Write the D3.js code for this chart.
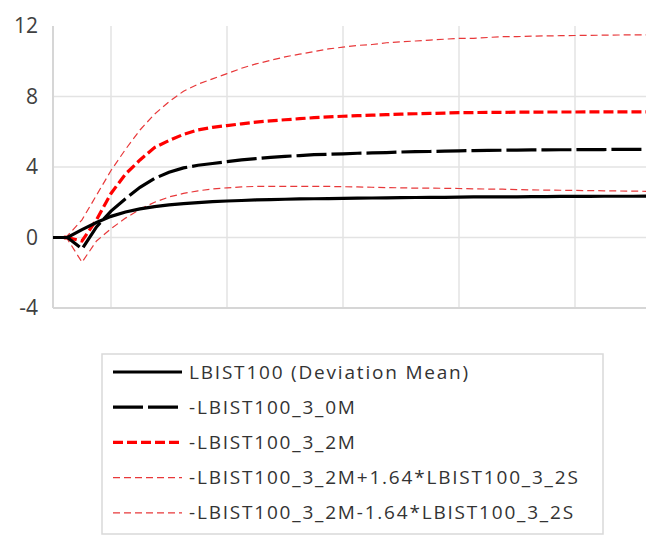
<!DOCTYPE html>
<html>
<head>
<meta charset="utf-8">
<script src="https://cdn.jsdelivr.net/npm/d3@7"></script>
<style>
  body { margin: 0; background: #fff; }
  text { font-family: "Open Sans", "Noto Sans", sans-serif; }
</style>
</head>
<body>
<svg id="chart" width="646" height="536"></svg>
<script>
// impulse responses, one value per period
const periods = d3.range(42);
const gridPeriods = [4, 12, 20, 28, 36];
const yTicks = [-4, 0, 4, 8, 12];

const devMean = [0, 0, 0.45, 0.85, 1.2, 1.45, 1.62, 1.75, 1.85, 1.92, 1.98, 2.03, 2.07, 2.1,
  2.13, 2.15, 2.17, 2.19, 2.2, 2.21, 2.22, 2.23, 2.24, 2.25, 2.26, 2.27, 2.28, 2.28,
  2.29, 2.3, 2.3, 2.31, 2.31, 2.32, 2.32, 2.33, 2.33, 2.33, 2.34, 2.34, 2.34, 2.35];
const m0 = [0, 0, -0.65, 0.6, 1.5, 2.2, 2.85, 3.35, 3.7, 3.95, 4.1, 4.2, 4.3, 4.4,
  4.48, 4.55, 4.6, 4.65, 4.7, 4.72, 4.75, 4.78, 4.8, 4.82, 4.85, 4.87, 4.88, 4.9,
  4.92, 4.93, 4.94, 4.95, 4.96, 4.97, 4.97, 4.98, 4.98, 4.99, 4.99, 5.0, 5.0, 5.0];
const m2 = [0, 0, -0.2, 1.0, 2.5, 3.6, 4.4, 5.1, 5.5, 5.85, 6.1, 6.25, 6.35, 6.45,
  6.55, 6.62, 6.68, 6.74, 6.8, 6.84, 6.88, 6.91, 6.94, 6.97, 7.0, 7.02, 7.04, 7.06,
  7.08, 7.09, 7.1, 7.1, 7.11, 7.11, 7.12, 7.12, 7.12, 7.13, 7.13, 7.13, 7.13, 7.13];
const upper = [0, 0.1, 1.0, 2.4, 3.8, 5.0, 6.1, 7.0, 7.7, 8.3, 8.7, 9.0, 9.3, 9.6,
  9.85, 10.05, 10.25, 10.4, 10.55, 10.7, 10.8, 10.9, 10.95, 11.05, 11.1, 11.15, 11.2, 11.25,
  11.3, 11.3, 11.35, 11.4, 11.4, 11.42, 11.44, 11.45, 11.46, 11.47, 11.48, 11.49, 11.5, 11.5];
const lower = [0, -0.1, -1.4, -0.2, 0.5, 1.1, 1.6, 2.0, 2.3, 2.5, 2.65, 2.75, 2.82, 2.87,
  2.9, 2.9, 2.9, 2.9, 2.9, 2.9, 2.88, 2.87, 2.85, 2.83, 2.82, 2.8, 2.8, 2.79,
  2.78, 2.76, 2.75, 2.74, 2.72, 2.7, 2.69, 2.68, 2.67, 2.66, 2.65, 2.64, 2.63, 2.62];

const seriesNames = ["LBIST100 (Deviation Mean)", "-LBIST100_3_0M", "-LBIST100_3_2M",
  "-LBIST100_3_2M+1.64*LBIST100_3_2S", "-LBIST100_3_2M-1.64*LBIST100_3_2S"];

const series = [
  { name: seriesNames[0], values: devMean, color: "#000", width: 3.2, dash: null },
  { name: seriesNames[1], values: m0, color: "#000", width: 3.2, dash: "30,5" },
  { name: seriesNames[2], values: m2, color: "#ff0000", width: 3.2, dash: "10,4" },
  { name: seriesNames[3], values: upper, color: "#e8383a", width: 1.2, dash: "7,4" },
  { name: seriesNames[4], values: lower, color: "#e8383a", width: 1.2, dash: "7,4" }
];

const svg = d3.select("#chart");
const plotLeft = 53, plotTop = 26, plotBottom = 308, plotRight = 646;

const x = d3.scaleLinear().domain([0, 41]).range([plotLeft, plotLeft + 14.5 * 41]);
const y = d3.scaleLinear().domain([-4, 12]).range([plotBottom, plotTop]);

svg.append("defs").append("clipPath").attr("id", "plot")
  .append("rect").attr("x", plotLeft).attr("y", 0)
  .attr("width", plotRight - plotLeft).attr("height", 536);

// gridlines
svg.append("g").selectAll("line").data(yTicks.filter(d => d > -4 && d < 12)).join("line")
  .attr("x1", plotLeft).attr("x2", plotRight)
  .attr("y1", d => y(d)).attr("y2", d => y(d))
  .attr("stroke", "#e3e3e3").attr("stroke-width", 1.5);
svg.append("g").selectAll("line").data(gridPeriods).join("line")
  .attr("x1", d => x(d)).attr("x2", d => x(d))
  .attr("y1", plotTop).attr("y2", plotBottom)
  .attr("stroke", "#e3e3e3").attr("stroke-width", 1.5);

// axis lines
svg.append("line").attr("x1", plotLeft).attr("x2", plotLeft)
  .attr("y1", plotTop).attr("y2", plotBottom)
  .attr("stroke", "#d6d6d6").attr("stroke-width", 2);
svg.append("line").attr("x1", plotLeft).attr("x2", plotRight)
  .attr("y1", plotBottom).attr("y2", plotBottom)
  .attr("stroke", "#d6d6d6").attr("stroke-width", 2);

// y tick labels (plain hyphen for the minus, as in the original)
const yAxis = svg.append("g").attr("transform", `translate(${plotLeft - 15},0)`)
  .call(d3.axisLeft(y).tickValues(yTicks).tickFormat(d => String(d)).tickSize(0).tickPadding(0));
yAxis.select(".domain").remove();
yAxis.selectAll("text").attr("font-size", 21).attr("fill", "#404040")
  .style("font-family", "'Open Sans', sans-serif");

// series
const line = d3.line().x((d, i) => x(periods[i])).y(d => y(d));
const plot = svg.append("g").attr("clip-path", "url(#plot)");
[3, 4, 2, 1, 0].forEach(k => {
  const s = series[k];
  plot.append("path").datum(s.values)
    .attr("d", line)
    .attr("fill", "none")
    .attr("stroke", s.color)
    .attr("stroke-width", s.width)
    .attr("stroke-dasharray", s.dash)
    .attr("stroke-linejoin", "miter");
});

// legend
const legend = svg.append("g");
legend.append("rect").attr("x", 102).attr("y", 354).attr("width", 501).attr("height", 180)
  .attr("fill", "#fff").attr("stroke", "#d9d9d9").attr("stroke-width", 1.5);
const rows = legend.selectAll("g.row").data(series).join("g")
  .attr("transform", (d, i) => `translate(0,${372 + 35.2 * i})`);
rows.append("line").attr("x1", 113).attr("x2", 182).attr("y1", 0).attr("y2", 0)
  .attr("stroke", d => d.color).attr("stroke-width", d => d.width)
  .attr("stroke-dasharray", d => d.dash);
rows.append("text").attr("x", 189).attr("y", 0).attr("dy", "0.35em")
  .attr("font-size", 19).attr("letter-spacing", 1.8).attr("fill", "#333")
  .text(d => d.name);
</script>
</body>
</html>
